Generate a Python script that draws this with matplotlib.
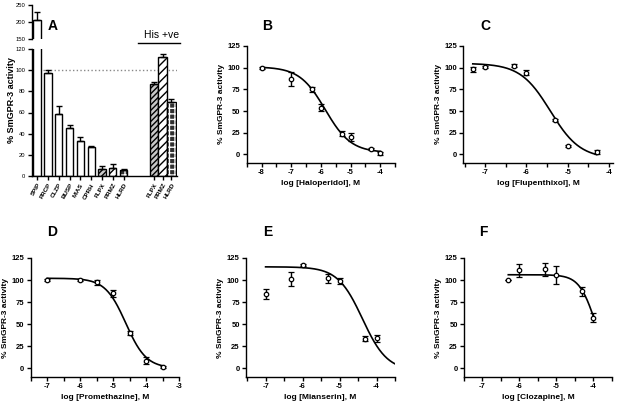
import numpy as np
import matplotlib
matplotlib.use("Agg")
import matplotlib.pyplot as plt
from matplotlib.lines import Line2D

plt.rcParams["font.family"] = ["Liberation Sans", "DejaVu Sans"]

# panel A: % activity at single concentration
a_labels = ["SPIP", "PRCP", "CLZP", "BUSP", "MIAS", "CPRH", "FLPX", "PRMZ", "HLRD"]
a_values = [205, 97, 59, 45, 33, 27.5, 6.5, 8, 5.5]
a_errors = [25, 3.5, 7.5, 3.5, 3.5, 1.3, 2.5, 3, 1]
his_labels = ["FLPX", "PRMZ", "HLRD"]
his_values = [86.5, 112, 70]
his_errors = [2, 3.5, 3]

# dose-response panels: log conc, mean, sem, fit (top, bottom, logIC50, hill, x range)
b_x = [-8, -7, -6.3, -6, -5.3, -5, -4.3, -4]
b_y = [100, 87, 75, 54, 24, 20, 6, 1]
b_err = [1, 8, 3, 4, 3, 5, 1, 2]
b_fit = [101, 2, -5.85, 1.0, -8, -4]

c_x = [-7.3, -7, -6.3, -6, -5.3, -5, -4.3]
c_y = [98, 101, 102.5, 94, 40, 9.5, 2.5]
c_err = [3, 1, 2, 3, 1, 1, 2]
c_fit = [105, -5, -5.42, 1.2, -7.3, -4.3]

d_x = [-7, -6, -5.5, -5, -4.5, -4, -3.5]
d_y = [100, 100, 97.5, 85, 40, 8.5, 1]
d_err = [1, 1, 3, 4, 2, 4, 1]
d_fit = [102, 0, -4.62, 1.4, -7, -3.5]

e_x = [-7, -6.3, -6, -5.3, -5, -4.3, -4]
e_y = [84, 101, 117, 102, 99, 33.5, 34]
e_err = [6, 8, 1, 5, 3, 3, 4]
e_fit = [115, -3, -4.38, 1.3, -7, -3.5]

f_x = [-6.3, -6, -5.3, -5, -4.3, -4]
f_y = [100, 111, 112, 106, 87, 57.5]
f_err = [0, 7, 7, 10, 5, 5]
f_fit = [106, 0, -3.95, 2.0, -6.3, -4]

W, H = 618, 407
fig = plt.figure(figsize=(W / 100, H / 100), dpi=100)


def px(l, r, t, b):
    return [l / W, 1 - b / H, (r - l) / W, (b - t) / H]


def style(ax):
    for s in ("top", "right"):
        ax.spines[s].set_visible(False)
    for s in ("left", "bottom"):
        ax.spines[s].set_linewidth(1.0)
    ax.tick_params(direction="out", length=3, width=1, pad=1.5)


def hbar(ax, x, h, w, kind):
    # kind 0 plain, 1 fine grey hatch, 2 diagonal, 3 dark brick
    if kind == 3:
        ax.bar(x, h, width=w, color="#303030", edgecolor="white", hatch="+++", lw=0)
        ax.bar(x, h, width=w, fill=False, edgecolor="black", lw=1)
    else:
        face = ["white", "#c8c8c8", "white"][kind]
        hatch = [None, "//////", "////"][kind]
        ax.bar(x, h, width=w, color=face, edgecolor="black", hatch=hatch, lw=1)


# ---- panel A (broken axis) ----
axA = fig.add_axes(px(31.7, 176.7, 49, 176))
axAt = fig.add_axes(px(31.7, 176.7, 5, 39))
pos1 = np.arange(len(a_labels))
pos2 = 10.8 + 0.8 * np.arange(len(his_labels))
kinds = [0] * 6 + [1, 2, 3]
for ax in (axA, axAt):
    for i in range(len(a_labels)):
        hbar(ax, pos1[i], a_values[i], 0.67, kinds[i])
        ax.errorbar(pos1[i], a_values[i], yerr=[[0], [a_errors[i]]], color="black",
                    lw=1, capsize=2, capthick=1)
    for j in range(len(his_labels)):
        hbar(ax, pos2[j], his_values[j], 0.8, kinds[6 + j])
        ax.errorbar(pos2[j], his_values[j], yerr=[[0], [his_errors[j]]], color="black",
                    lw=1, capsize=2, capthick=1)
    ax.set_xlim(-0.5, 12.9)
    style(ax)
axA.set_ylim(0, 120)
axA.set_yticks(range(0, 121, 20))
axA.axhline(100, color="#888888", ls=":", lw=1, zorder=0)
axA.set_xticks(list(pos1) + list(pos2))
axA.set_xticklabels(a_labels + his_labels, rotation=60, ha="right",
                    rotation_mode="anchor", fontsize=4.5, fontweight="bold")
axA.tick_params(axis="y", labelsize=4.2)
axA.set_ylabel("% SmGPR-3 activity", fontsize=6.5, fontweight="bold")
axA.yaxis.set_label_coords(-0.11, 0.6)
axAt.set_ylim(150, 250)
axAt.set_yticks([150, 200, 250])
axAt.tick_params(axis="y", labelsize=4.2)
axAt.spines["bottom"].set_visible(False)
axAt.set_xticks([])
fig.text(53 / W, 1 - 26 / H, "A", fontsize=10, fontweight="bold", ha="center", va="center")
fig.text(162 / W, 1 - 34.5 / H, "His +ve", fontsize=7.5, ha="center", va="center")
fig.add_artist(Line2D([138 / W, 180 / W], [1 - 43 / H, 1 - 43 / H], color="black", lw=1))

# ---- dose-response panels ----
panels = [
    ("B", b_x, b_y, b_err, b_fit, "Haloperidol", px(246.7, 395, 46, 163), (-8.5, -3.5), (267, 26.5)),
    ("C", c_x, c_y, c_err, c_fit, "Flupenthixol", px(463.3, 613, 46, 163), (-7.53, -3.9), (485, 26.5)),
    ("D", d_x, d_y, d_err, d_fit, "Promethazine", px(30.7, 179.3, 258, 377), (-7.5, -3.0), (52.5, 232)),
    ("E", e_x, e_y, e_err, e_fit, "Mianserin", px(246, 395, 258, 377), (-7.53, -3.5), (268, 232)),
    ("F", f_x, f_y, f_err, f_fit, "Clozapine", px(464, 611.7, 258, 377), (-7.5, -3.5), (483, 232)),
]
for letter, xs, ys, es, fit, drug, rect, xlim, lab in panels:
    ax = fig.add_axes(rect)
    top, bot, ic50, hill, x0, x1 = fit
    xx = np.linspace(x0, x1, 200)
    ax.plot(xx, bot + (top - bot) / (1 + 10 ** ((xx - ic50) * hill)), color="black", lw=1.2)
    ax.errorbar(xs, ys, yerr=es, fmt="o", ms=3.2, mfc="white", mec="black", mew=0.9,
                ecolor="black", elinewidth=1, capsize=2, capthick=1)
    ax.set_xlim(*xlim)
    ax.set_ylim(-10, 125)
    ax.set_yticks([0, 25, 50, 75, 100, 125])
    ax.set_xticks(np.arange(np.ceil(xlim[0] * 2) / 2, xlim[1] + 0.01, 0.5))
    ax.set_xticklabels([("%d" % v if v == int(v) else "") for v in ax.get_xticks()])
    style(ax)
    ax.tick_params(labelsize=5.5)
    for t in ax.get_xticklabels() + ax.get_yticklabels():
        t.set_fontweight("bold")
    ax.set_xlabel("log [%s], M" % drug, fontsize=6, fontweight="bold", labelpad=3)
    ax.set_ylabel("% SmGPR-3 activity", fontsize=6, fontweight="bold", labelpad=2)
    fig.text(lab[0] / W, 1 - lab[1] / H, letter, fontsize=10, fontweight="bold",
             ha="center", va="center")

fig.savefig("out.png", dpi=100)
